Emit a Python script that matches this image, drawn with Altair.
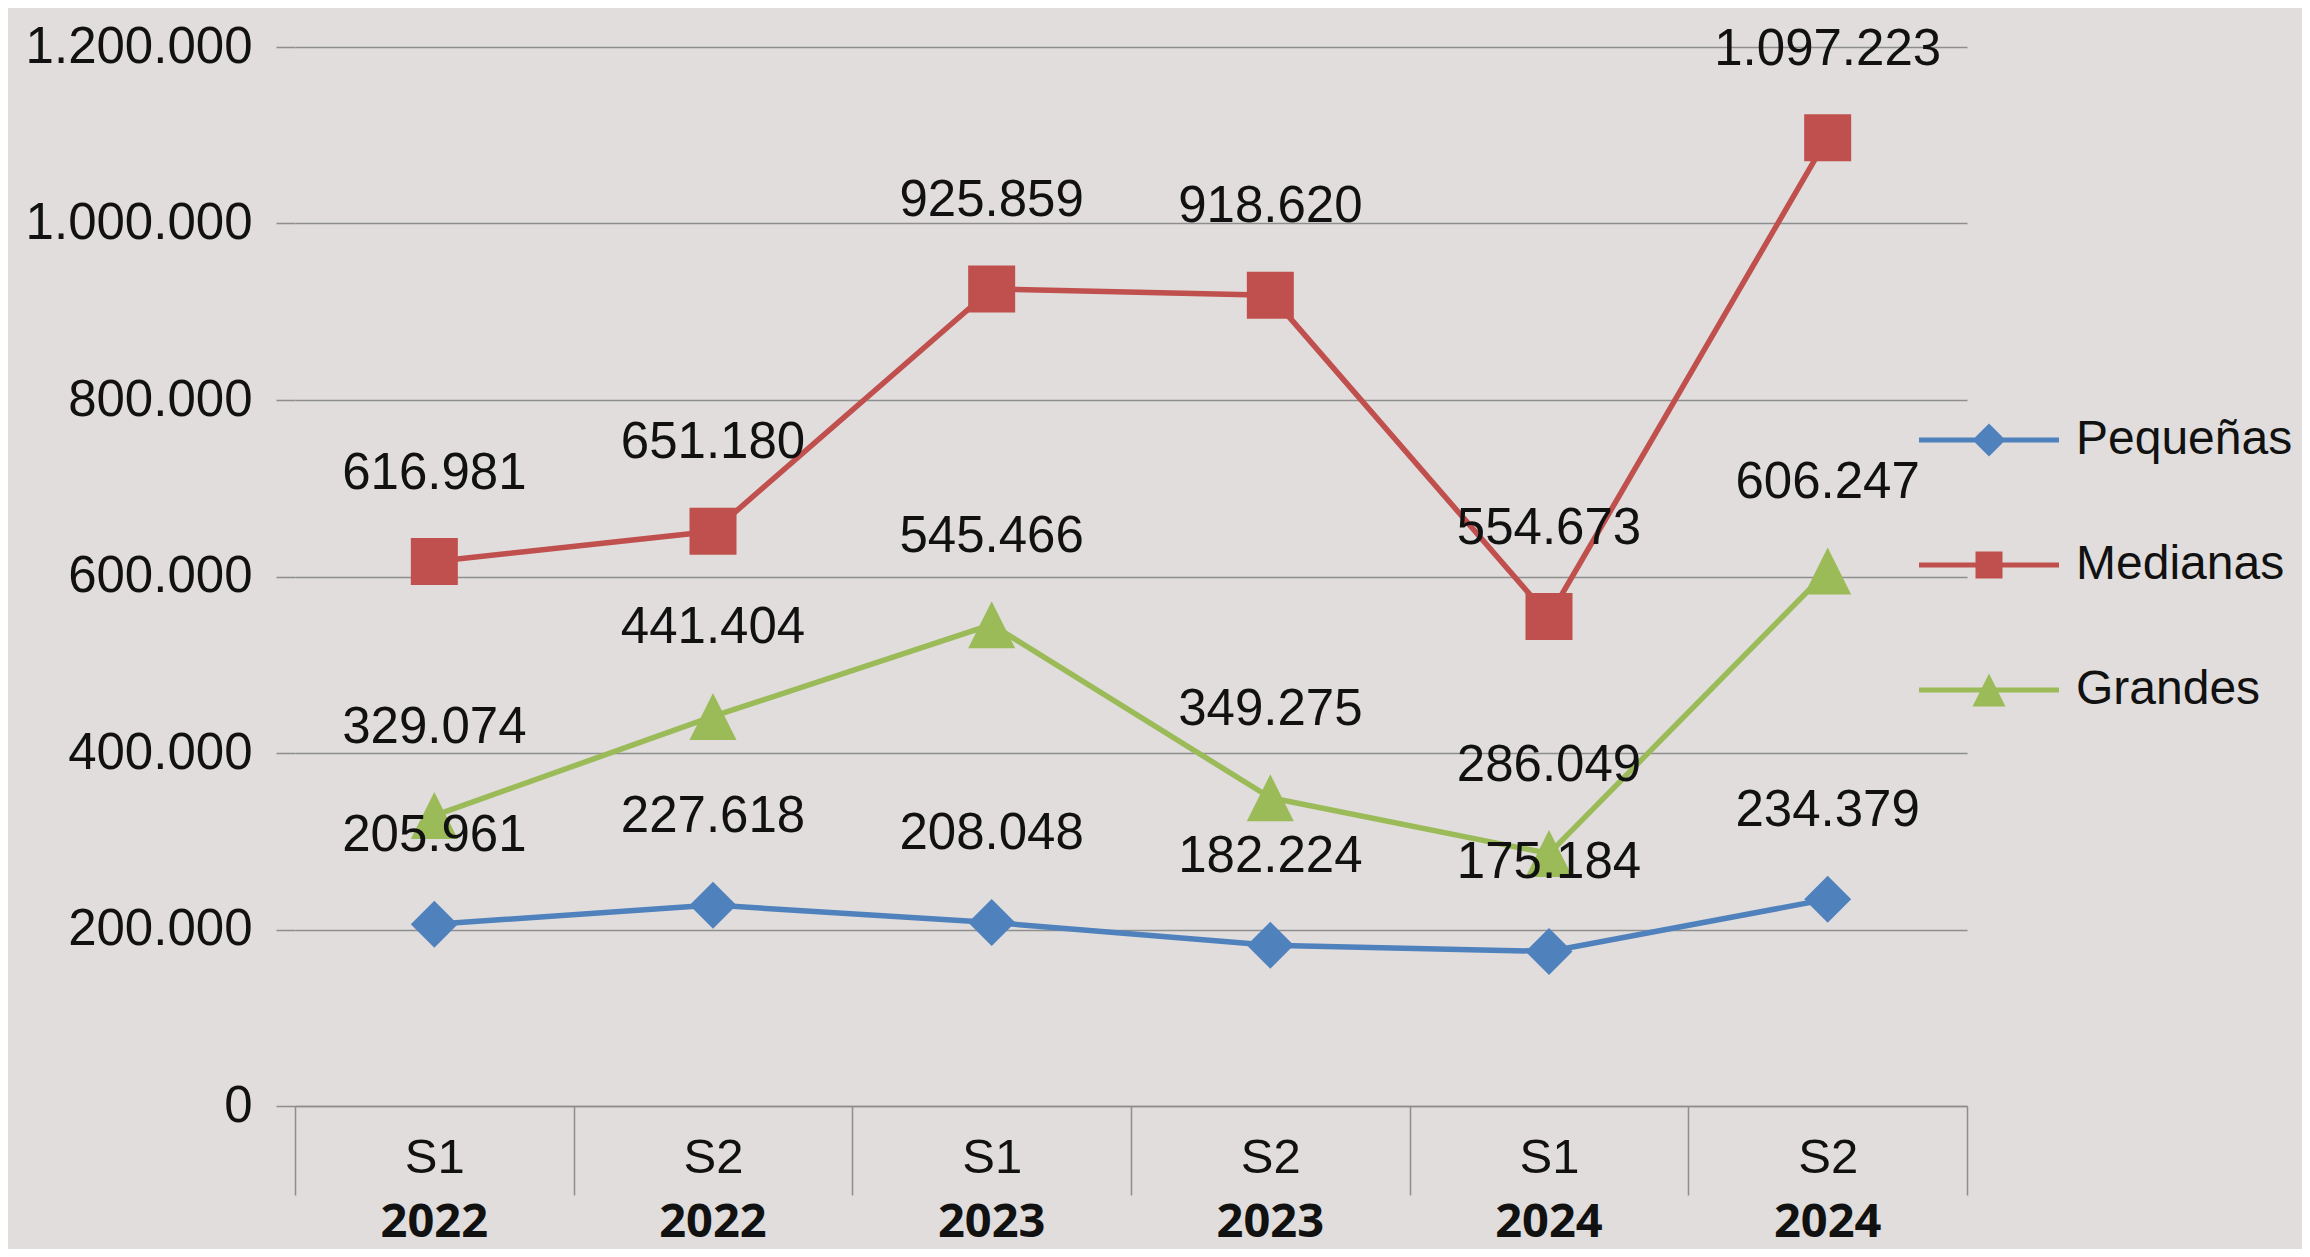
import altair as alt
import pandas as pd

periodos = ["S1 2022", "S2 2022", "S1 2023", "S2 2023", "S1 2024", "S2 2024"]
series = ["Pequeñas", "Medianas", "Grandes"]
pequenas = [205961, 227618, 208048, 182224, 175184, 234379]
medianas = [616981, 651180, 925859, 918620, 554673, 1097223]
grandes = [329074, 441404, 545466, 349275, 286049, 606247]
y_ticks = [0, 200000, 400000, 600000, 800000, 1000000, 1200000]
colores = ["#4F81BD", "#C0504D", "#9BBB59"]

rows = []
for s, vals in zip(series, [pequenas, medianas, grandes]):
    for i, (p, v) in enumerate(zip(periodos, vals)):
        rows.append({"serie": s, "periodo": p, "orden": i, "valor": v})
df = pd.DataFrame(rows)

FONT = "Liberation Sans, Arial, sans-serif"
GRAY = "#8E8E8E"
TXT = "#111111"
FMT = "replace(replace(format(datum.value, ','), ',', '.'), ',', '.')"

axis_y = alt.Axis(values=y_ticks, labelExpr=FMT, labelFont=FONT, labelFontSize=51,
                  labelColor=TXT, labelPadding=24, labelLimit=0, tickSize=19, tickColor=GRAY,
                  tickWidth=1.5, domain=False, grid=True, gridColor=GRAY,
                  gridWidth=1.5, title=None)
y_enc = alt.Y("valor:Q", scale=alt.Scale(domain=[0, 1200000], nice=False), axis=axis_y)

x_scale = alt.Scale(type="band", paddingInner=0, paddingOuter=0)
axis_s = alt.Axis(orient="bottom", labelExpr="split(datum.label, ' ')[0]", tickBand="extent",
                  tickSize=89, tickColor=GRAY, tickWidth=1.5, domainColor=GRAY, domainWidth=1.5,
                  labelFont=FONT, labelFontSize=49, labelColor=TXT, labelPadding=-62,
                  labelAngle=0, title=None, grid=False)
axis_year = alt.Axis(orient="bottom", labelExpr="split(datum.label, ' ')[1]", ticks=False,
                     domain=False, labelFont="Open Sans", labelFontWeight="bold",
                     labelFontSize=47, labelColor=TXT, labelPadding=93, labelAngle=0,
                     title=None, grid=False)

color_scale = alt.Scale(domain=series, range=colores)

base = alt.Chart(df)

line = base.mark_line(strokeWidth=5.5).encode(
    x=alt.X("periodo:N", sort=periodos, scale=x_scale, axis=axis_s),
    y=y_enc,
    color=alt.Color("serie:N", scale=color_scale, legend=None),
    order="orden:Q",
)

pts = base.mark_point(filled=True, size=2209, opacity=1, strokeWidth=0).encode(
    x=alt.X("periodo:N", sort=periodos, scale=x_scale, axis=None),
    y=y_enc,
    color=alt.Color("serie:N", scale=color_scale, legend=None),
    shape=alt.Shape("serie:N", scale=alt.Scale(domain=series,
                    range=["diamond", "square", "M0,-1L1,1L-1,1Z"]), legend=None),
)

txt = base.transform_calculate(
    etiqueta="replace(replace(format(datum.valor, ','), ',', '.'), ',', '.')"
).mark_text(font=FONT, fontSize=51, baseline="alphabetic", dy=-73, color=TXT).encode(
    x=alt.X("periodo:N", sort=periodos, scale=x_scale, axis=axis_year),
    y=y_enc,
    text="etiqueta:N",
)

legend_paths = [
    "M-3.5,-0.125L3.5,-0.125L3.5,0.125L-3.5,0.125Z M0,-0.825L0.825,0L0,0.825L-0.825,0Z",
    "M-3.5,-0.125L3.5,-0.125L3.5,0.125L-3.5,0.125Z M-0.675,-0.675L0.675,-0.675L0.675,0.675L-0.675,0.675Z",
    "M-3.5,-0.125L3.5,-0.125L3.5,0.125L-3.5,0.125Z M0,-0.825L0.825,0.825L-0.825,0.825Z",
]
leg = alt.Legend(orient="none", legendX=1670, legendY=369, title=None, labelFont=FONT,
                 labelFontSize=48, labelColor=TXT, symbolSize=1600, symbolStrokeWidth=0,
                 labelOffset=63, rowPadding=77, padding=0, labelLimit=0)

legend_layer = base.transform_filter("false").mark_point(filled=True, opacity=1).encode(
    color=alt.Color("serie:N", scale=color_scale, legend=leg),
    shape=alt.Shape("serie:N", scale=alt.Scale(domain=series, range=legend_paths), legend=leg),
)

chart = alt.layer(line, pts, txt, legend_layer).resolve_scale(
    color="independent", shape="independent"
).resolve_axis(x="independent").properties(
    width=1672, height=1059,
    autosize=alt.AutoSizeParams(type="none"),
    padding={"left": 287, "top": 39, "right": 335, "bottom": 143},
    background="#E0DDDC",
).configure_view(stroke=None)

chart.save("out.html", embed_options={"renderer": "svg", "actions": False})
